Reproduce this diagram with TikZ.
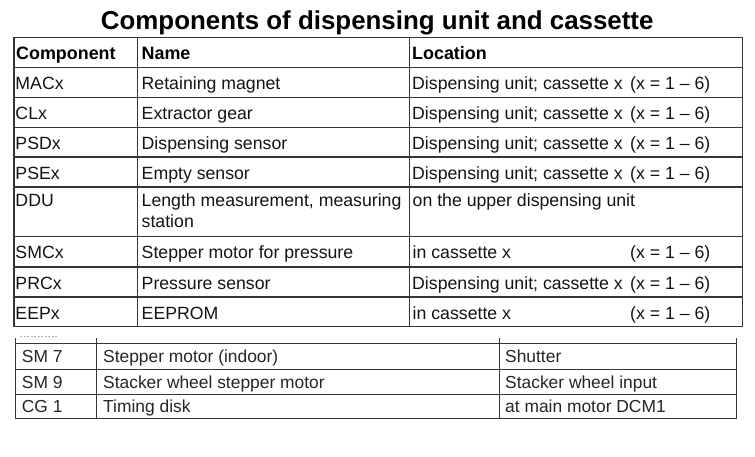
\documentclass[tikz,border=0pt]{standalone}
\usepackage{fontspec}
\setmainfont{Liberation Sans}
\definecolor{txt}{HTML}{141414}
\definecolor{txtb}{HTML}{262626}
\definecolor{gridc}{HTML}{353535}
\begin{document}
\begin{tikzpicture}[x=1pt,y=-1pt,
  cell/.style={anchor=base west, inner sep=0pt, text=txt, font=\fontsize{17.7}{20}\selectfont},
  hcell/.style={cell, text=black, font=\bfseries\fontsize{17.9}{20}\selectfont},
  bcell/.style={anchor=base west, inner sep=0pt, text=txtb, font=\fontsize{17.4}{20}\selectfont},
  gridA/.style={draw=gridc, line width=1.3pt},
  gridB/.style={draw=gridc, line width=1pt}]
\useasboundingbox[fill=white] (0,0) rectangle (755,456);
% title
\node[anchor=base, inner sep=0pt, font=\bfseries\fontsize{25.9}{30}\selectfont] (title) at (377.2,29.3) {Components of dispensing unit and cassette};
% top table grid
\draw[gridA] (14,37.7) rectangle (742.7,326.7);
\foreach \yy in {67.7,97.5,127.3,157.1,186.9,236.7,267,297}
  \draw[gridA] (14,\yy) -- (742.7,\yy);
\draw[gridA] (137.3,37.7) -- (137.3,326.7);
\draw[gridA] (409.3,37.7) -- (409.3,326.7);
% header
\node[hcell] (h1) at (16,59.7) {Component};
\node[hcell] (h2) at (141.5,59.7) {Name};
\node[hcell] (h3) at (412,59.7) {Location};
% row 1
\node[cell] (c1) at (15.3,89.7) {MACx};
\node[cell] (n1) at (141.5,89.7) {Retaining magnet};
\node[cell] (l1) at (412,89.7) {Dispensing unit; cassette x};
\node[cell] (r1) at (630,89.7) {(x = 1 – 6)};
% row 2
\node[cell] (c2) at (15.3,119.5) {CLx};
\node[cell] (n2) at (141.5,119.5) {Extractor gear};
\node[cell] (l2) at (412,119.5) {Dispensing unit; cassette x};
\node[cell] (r2) at (630,119.5) {(x = 1 – 6)};
% row 3
\node[cell] (c3) at (15.3,149.3) {PSDx};
\node[cell] (n3) at (141.5,149.3) {Dispensing sensor};
\node[cell] (l3) at (412,149.3) {Dispensing unit; cassette x};
\node[cell] (r3) at (630,149.3) {(x = 1 – 6)};
% row 4
\node[cell] (c4) at (15.3,179.1) {PSEx};
\node[cell] (n4) at (141.5,179.1) {Empty sensor};
\node[cell] (l4) at (412,179.1) {Dispensing unit; cassette x};
\node[cell] (r4) at (630,179.1) {(x = 1 – 6)};
% row 5
\node[cell] (c5) at (15.3,206.5) {DDU};
\node[cell] (n5) at (141.5,206.5) {Length measurement, measuring};
\node[cell] (n5b) at (141.5,227.5) {station};
\node[cell] (l5) at (412.5,206.5) {on the upper dispensing unit};
% row 6
\node[cell] (c6) at (15.3,258.7) {SMCx};
\node[cell] (n6) at (141.5,258.7) {Stepper motor for pressure};
\node[cell] (l6) at (412.5,258.7) {in cassette x};
\node[cell] (r6) at (630,258.7) {(x = 1 – 6)};
% row 7
\node[cell] (c7) at (15.3,289) {PRCx};
\node[cell] (n7) at (141.5,289) {Pressure sensor};
\node[cell] (l7) at (412,289) {Dispensing unit; cassette x};
\node[cell] (r7) at (630,289) {(x = 1 – 6)};
% row 8
\node[cell] (c8) at (15.3,319) {EEPx};
\node[cell] (n8) at (141.5,319) {EEPROM};
\node[cell] (l8) at (412.5,319) {in cassette x};
\node[cell] (r8) at (630,319) {(x = 1 – 6)};
% bottom table
\draw[draw=gray!60, line width=0.8pt, dash pattern=on 2pt off 1.5pt] (20,336.6) -- (58,336.6);
\foreach \yy in {343.3,369.3,394,418.7}
  \draw[gridB] (15.7,\yy) -- (736.7,\yy);
\foreach \xx in {15.7,96.7,499,736.7}
  \draw[gridB] (\xx,338) -- (\xx,418.7);
\node[bcell] (s1) at (21.7,362.8) {SM 7};
\node[bcell] (s2) at (103,362.8) {Stepper motor (indoor)};
\node[bcell] (s3) at (505,362.8) {Shutter};
\node[bcell] (t1) at (21.7,388) {SM 9};
\node[bcell] (t2) at (103,388) {Stacker wheel stepper motor};
\node[bcell] (t3) at (505,388) {Stacker wheel input};
\node[bcell] (u1) at (21.7,412.4) {CG 1};
\node[bcell] (u2) at (103,412.4) {Timing disk};
\node[bcell] (u3) at (505,412.4) {at main motor DCM1};
\end{tikzpicture}
\end{document}
